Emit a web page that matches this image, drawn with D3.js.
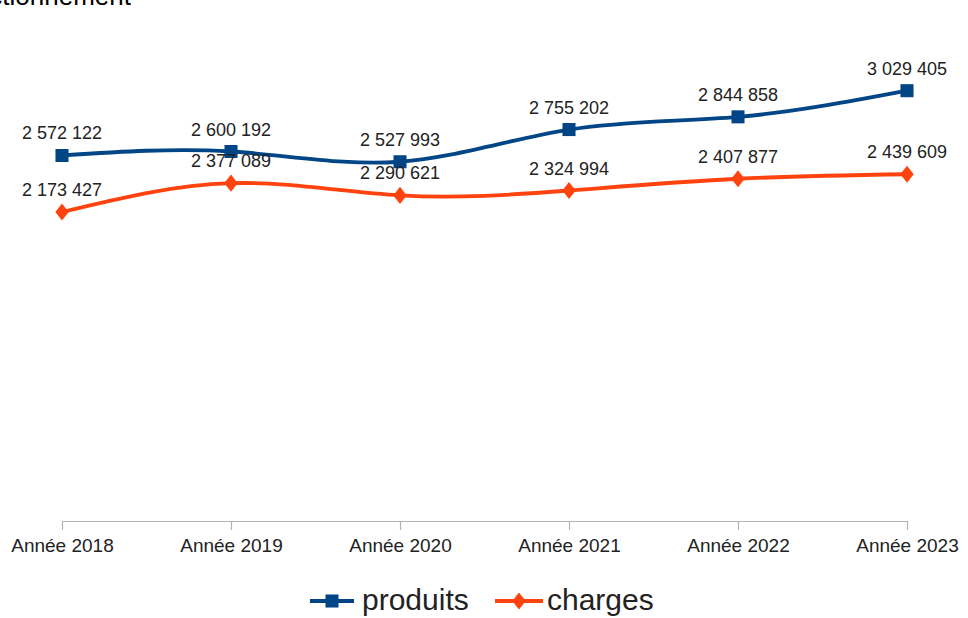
<!DOCTYPE html>
<html><head><meta charset="utf-8">
<script src="https://cdn.jsdelivr.net/npm/d3@7"></script>
<style>body{margin:0;background:#fff;} text{font-family:"Liberation Sans",Arial,sans-serif;}</style>
</head><body>
<svg id="c" width="968" height="618"></svg>
<script>
const categories = ["Année 2018","Année 2019","Année 2020","Année 2021","Année 2022","Année 2023"];
const produits = [2572122, 2600192, 2527993, 2755202, 2844858, 3029405];
const charges = [2173427, 2377089, 2290621, 2324994, 2407877, 2439609];
const seriesNames = ["produits","charges"];
const colors = ["#004586","#ff420e"];
const fmt = v => d3.format(",")(v).replace(/,/g," ");

const svg = d3.select("#c");
svg.append("rect").attr("width",968).attr("height",618).attr("fill","#fff");

// cropped title at top
svg.append("text").attr("x",131).attr("y",5).attr("text-anchor","end")
  .attr("font-size",26).attr("fill","#000").text("Section de fonctionnement");

const x = d3.scalePoint().domain(categories).range([62,907]);
const y = d3.scaleLinear().domain([0,3500000]).range([520,24]);

// axis
const axis = d3.axisBottom(x).tickSizeInner(9).tickSizeOuter(0).tickPadding(6);
const gx = svg.append("g").attr("transform","translate(0,521)").call(axis);
gx.select(".domain").attr("stroke","#b3b3b3").attr("stroke-width",1.2);
gx.selectAll(".tick line").attr("stroke","#b3b3b3").attr("stroke-width",1.2);
gx.selectAll(".tick text").attr("font-size",19).attr("fill","#222")
  .attr("font-family","Liberation Sans, Arial, sans-serif")
  .attr("dy","0.85em");

const data = [produits, charges];
const line = d3.line().x((d,i)=>x(categories[i])).y(d=>y(d)).curve(d3.curveNatural);

data.forEach((vals,si)=>{
  svg.append("path").attr("d",line(vals)).attr("fill","none")
    .attr("stroke",colors[si]).attr("stroke-width",3.8);
});

// markers
const sq = d3.symbol().type(d3.symbolSquare).size(170);
const dm = d3.symbol().type(d3.symbolDiamond).size(85);
data.forEach((vals,si)=>{
  svg.selectAll(null).data(vals).enter().append("path")
    .attr("d", si===0 ? sq() : dm())
    .attr("transform",(d,i)=>`translate(${x(categories[i])},${y(d)})${si===1?" scale(1.35,1)":""}`)
    .attr("fill",colors[si]);
});

// labels
data.forEach((vals,si)=>{
  svg.selectAll(null).data(vals).enter().append("text")
    .attr("x",(d,i)=>x(categories[i]))
    .attr("y",d=>y(d)-16)
    .attr("text-anchor","middle").attr("font-size",18).attr("fill","#222")
    .text(d=>fmt(d));
});

// legend
const lg = svg.append("g");
lg.append("line").attr("x1",310).attr("x2",354).attr("y1",601).attr("y2",601)
  .attr("stroke",colors[0]).attr("stroke-width",4);
lg.append("path").attr("d",sq()).attr("transform","translate(332,601)").attr("fill",colors[0]);
lg.append("text").attr("x",362).attr("y",610).attr("font-size",30).attr("fill","#222").text(seriesNames[0]);
lg.append("line").attr("x1",495).attr("x2",543).attr("y1",601).attr("y2",601)
  .attr("stroke",colors[1]).attr("stroke-width",4);
lg.append("path").attr("d",dm()).attr("transform","translate(519,601) scale(1.35,1)").attr("fill",colors[1]);
lg.append("text").attr("x",547).attr("y",610).attr("font-size",30).attr("fill","#222").text(seriesNames[1]);
</script>
</body></html>
